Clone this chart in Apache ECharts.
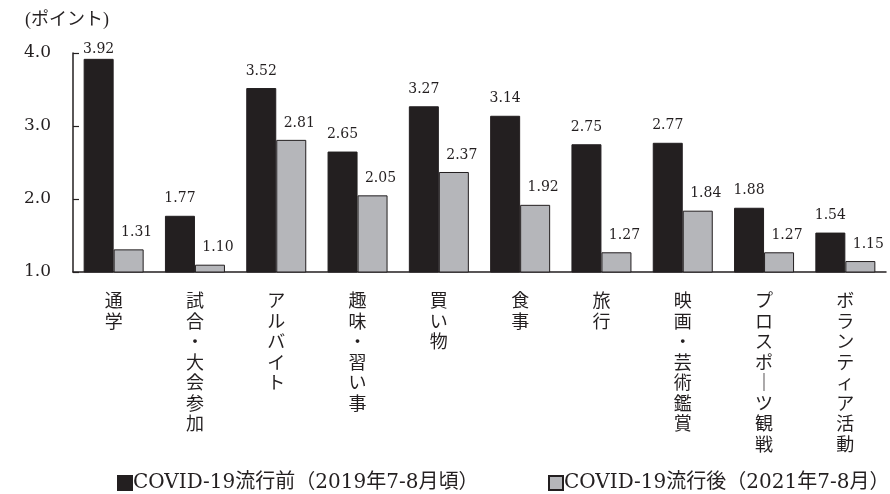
<!DOCTYPE html>
<html>
<head>
<meta charset="utf-8">
<script src="https://cdn.jsdelivr.net/npm/echarts@6/dist/echarts.min.js"></script>
<style>
  html, body { margin: 0; padding: 0; background: #fff; }
  #chart { width: 890px; height: 494px; }
</style>
</head>
<body>
<div id="chart"></div>
<script>
// Activities and average scores before / after the pandemic
const categories = ['通学', '試合・大会参加', 'アルバイト', '趣味・習い事', '買い物', '食事', '旅行', '映画・芸術鑑賞', 'プロスポーツ観戦', 'ボランティア活動'];
const before = [3.92, 1.77, 3.52, 2.65, 3.27, 3.14, 2.75, 2.77, 1.88, 1.54];
const after = [1.31, 1.10, 2.81, 2.05, 2.37, 1.92, 1.27, 1.84, 1.27, 1.15];
const seriesNames = ['COVID-19流行前（2019年7-8月頃）', 'COVID-19流行後（2021年7-8月）'];
const yTicks = [1, 2, 3, 4];

const ink = '#231f20';
const grey = '#b5b6ba';
const numFont = 'DejaVu Serif';
const mixedFont = '"DejaVu Serif", "Noto Sans CJK JP"';

// vertical writing: one character per line, long vowel mark drawn upright
function verticalText(s) {
  return s.split('').map(c => c === 'ー' ? '｜' : c).join('\n');
}

function legendAt(left, name) {
  return {
    left: left,
    top: 472,
    padding: 0,
    itemWidth: 14,
    itemHeight: 14,
    icon: 'rect',
    textStyle: { fontFamily: mixedFont, fontSize: 20, lineHeight: 22, color: ink, padding: [0, 0, 0, -4] },
    data: [name]
  };
}

const chart = echarts.init(document.getElementById('chart'));
chart.setOption({
  animation: false,
  title: {
    text: '(ポイント)',
    left: 20,
    top: 6,
    textStyle: { fontFamily: '"Liberation Serif", "Noto Sans CJK JP"', fontSize: 18, fontWeight: 'normal', color: ink }
  },
  legend: [legendAt(117, seriesNames[0]), legendAt(548, seriesNames[1])],
  grid: { left: 73, right: 4, top: 53, bottom: 222, containLabel: false },
  xAxis: {
    type: 'category',
    data: categories,
    axisLine: { lineStyle: { color: ink, width: 1.5 } },
    axisTick: { inside: true, length: 6, lineStyle: { color: ink, width: 1.2 } },
    axisLabel: {
      interval: 0,
      margin: 18,
      fontFamily: '"Noto Sans CJK JP"',
      fontSize: 18,
      lineHeight: 20.5,
      color: ink,
      verticalAlign: 'top',
      formatter: verticalText
    }
  },
  yAxis: {
    type: 'value',
    min: 1,
    max: 4,
    interval: 1,
    axisLine: { show: true, lineStyle: { color: ink, width: 1.5 } },
    axisTick: { show: true, inside: true, length: 6, lineStyle: { color: ink, width: 1.2 } },
    splitLine: { show: false },
    axisLabel: {
      margin: 22,
      fontFamily: numFont,
      fontSize: 17,
      color: ink,
      formatter: v => yTicks.includes(v) ? v.toFixed(1) : ''
    }
  },
  series: [
    {
      name: seriesNames[0],
      type: 'bar',
      barWidth: 30,
      barGap: '0%',
      data: before.map((v, i) => i === 0 ? { value: v, label: { distance: 2 } } : v),
      itemStyle: { color: ink, borderColor: ink, borderWidth: 1 },
      label: {
        show: true,
        position: 'top',
        distance: 10,
        fontFamily: numFont,
        fontSize: 14,
        color: ink,
        formatter: p => p.value.toFixed(2)
      }
    },
    {
      name: seriesNames[1],
      type: 'bar',
      barWidth: 30,
      data: after,
      itemStyle: { color: grey, borderColor: ink, borderWidth: 1 },
      label: {
        show: true,
        position: 'top',
        distance: 10,
        offset: [8, 0],
        fontFamily: numFont,
        fontSize: 14,
        color: ink,
        formatter: p => p.value.toFixed(2)
      }
    }
  ]
});
</script>
</body>
</html>
